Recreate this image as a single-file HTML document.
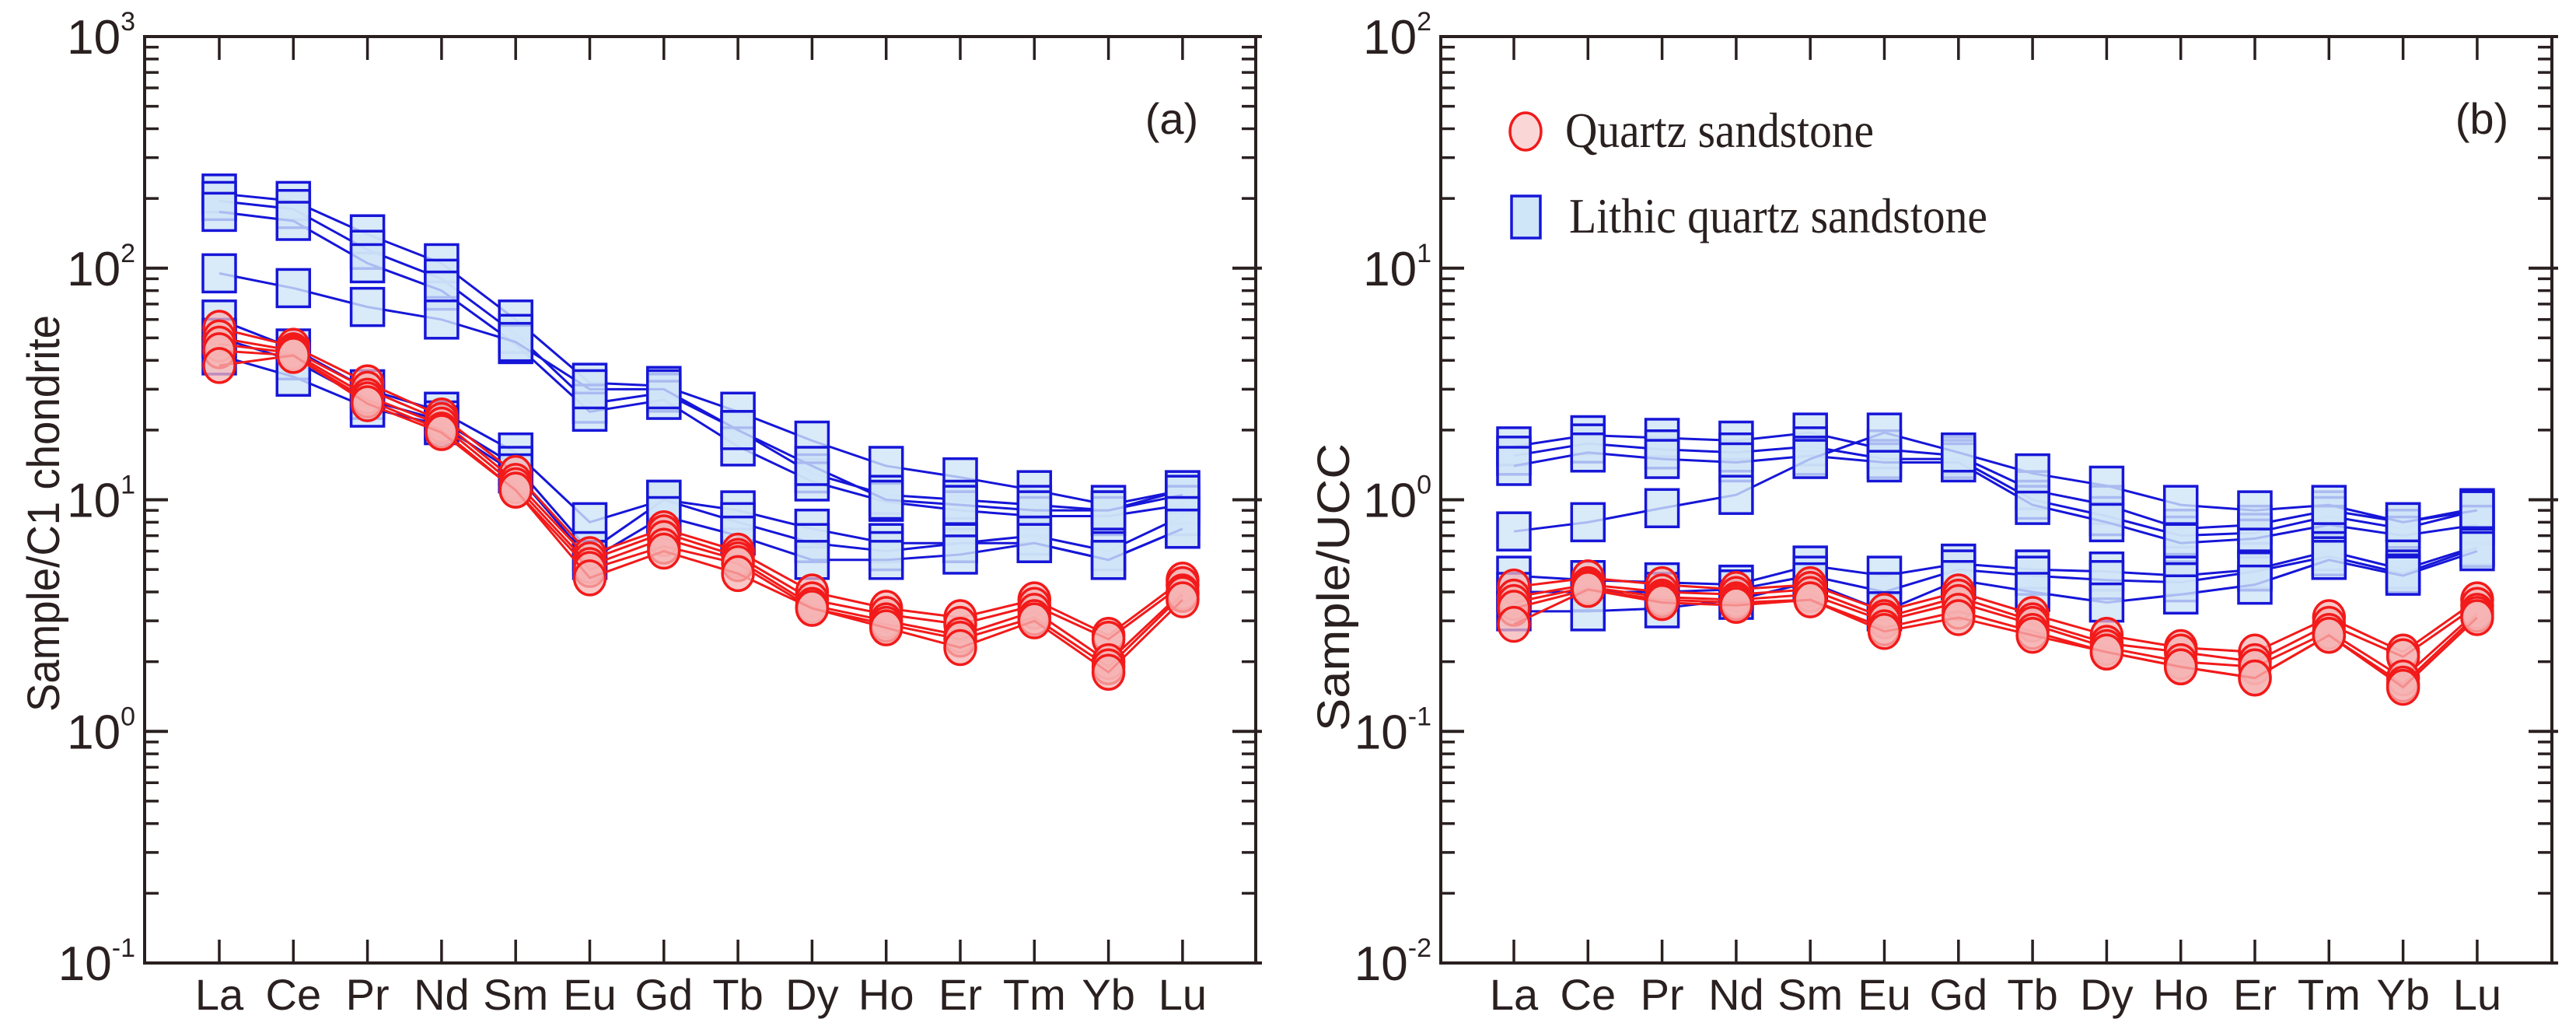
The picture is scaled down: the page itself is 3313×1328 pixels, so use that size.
<!DOCTYPE html>
<html><head><meta charset="utf-8"><style>
html,body{margin:0;padding:0;background:#fff;}
svg{display:block;}
</style></head><body>
<svg id="chart" width="3313" height="1328" viewBox="0 0 3313 1328" xmlns="http://www.w3.org/2000/svg" font-family="Liberation Sans, sans-serif">
<rect width="3313" height="1328" fill="#fff"/>
</svg>
<script>
const elements = ["La","Ce","Pr","Nd","Sm","Eu","Gd","Tb","Dy","Ho","Er","Tm","Yb","Lu"];
const leftBlue = [
 [210,195,140,105,60,32,31,24,18,14,12.5,11,9.5,11],
 [195,180,120,90,52,26,29,20,13,10.5,10,9.5,9,11],
 [175,160,105,80,47,24,27,17,12,9.8,9,8.5,8.5,9.5],
 [95,82,68,60,48,30,30,20,14,10,9.5,9,9,10.5],
 [60,45,30,24,16,8,10,9,7.5,6.5,6.5,7,6,8.5],
 [50,40,27,22,14,6,10,8,6.5,6,6.5,6.5,5.5,7.5],
 [42,34,25,21,13,5.5,8.5,7,5.5,5.5,5.8,6.5,5.5,7.5]
];
const leftRed = [
 [55,46,32,23,13,5.8,7.5,6,4,3.4,3.1,3.7,2.6,4.5],
 [50,44,30,22,12,5.5,7.2,5.7,3.7,3.2,2.9,3.5,2.5,4.3],
 [47,43,28,21,11.5,5.2,6.8,5.5,3.5,3,2.6,3.3,2.0,4.0],
 [44,42,27,20,11,5,6.3,5.3,3.4,2.9,2.5,3.1,1.9,3.9],
 [38,42,26,19.5,11,4.6,6,4.8,3.4,2.8,2.3,3,1.8,3.7]
];
const rightBlue = [
 [1.7,1.9,1.85,1.8,1.95,1.65,1.55,1.1,0.95,0.75,0.78,0.9,0.8,0.92],
 [1.55,1.75,1.65,1.6,1.7,1.5,1.5,1.0,0.85,0.7,0.72,0.85,0.75,0.9],
 [1.4,1.6,1.5,1.45,1.55,1.45,1.45,0.95,0.8,0.65,0.68,0.78,0.7,0.78],
 [0.73,0.8,0.92,1.05,1.5,1.95,1.6,1.3,1.15,0.95,0.9,0.95,0.8,0.9],
 [0.47,0.45,0.44,0.43,0.52,0.47,0.53,0.5,0.49,0.47,0.5,0.6,0.5,0.63],
 [0.4,0.4,0.4,0.41,0.47,0.4,0.5,0.47,0.45,0.44,0.49,0.57,0.48,0.62],
 [0.33,0.33,0.34,0.37,0.44,0.33,0.45,0.4,0.36,0.39,0.43,0.55,0.47,0.6]
];
const rightRed = [
 [0.42,0.46,0.43,0.41,0.43,0.33,0.4,0.32,0.26,0.23,0.22,0.31,0.22,0.37],
 [0.38,0.43,0.4,0.39,0.41,0.31,0.38,0.3,0.24,0.22,0.2,0.29,0.21,0.35],
 [0.36,0.42,0.38,0.37,0.39,0.3,0.36,0.29,0.23,0.2,0.19,0.27,0.17,0.33],
 [0.34,0.41,0.37,0.36,0.37,0.28,0.33,0.27,0.22,0.19,0.17,0.26,0.16,0.32],
 [0.29,0.41,0.36,0.35,0.37,0.27,0.31,0.26,0.22,0.19,0.17,0.26,0.155,0.31]
];
const leftDecades = [-1,0,1,2,3];
const rightDecades = [-2,-1,0,1,2];

const NS="http://www.w3.org/2000/svg";
const svg=document.getElementById('chart');
function mk(tag,attrs,parent){const e=document.createElementNS(NS,tag);for(const k in attrs)e.setAttribute(k,attrs[k]);(parent||svg).appendChild(e);return e;}

function panel(cfg){
  const g=mk('g',{});
  
  
  const L=cfg.x0,R=cfg.x1,T=47,B=1238;
  const dMin=cfg.dec[0],dMax=cfg.dec[cfg.dec.length-1];
  const y=v=>B-(Math.log10(v)-dMin)/(dMax-dMin)*(B-T);
  const x=i=>cfg.la+i*95.3;
  const fr=mk('rect',{x:L,y:T,width:R-L,height:B-T,fill:'none',stroke:'#2a2020','stroke-width':4},g);
  
  
  for(let d=dMin;d<=dMax;d++){
    const yy=y(Math.pow(10,d));
    mk('line',{x1:L,x2:L+30,y1:yy,y2:yy,stroke:'#2a2020','stroke-width':4},g);
    mk('line',{x1:R-30,x2:R+8,y1:yy,y2:yy,stroke:'#2a2020','stroke-width':4},g);
    const t=mk('text',{x:L-12,y:yy+22,'text-anchor':'end','font-size':62,fill:'#2a2020'},g);
    
    
    const a=mk('tspan',{},t);a.textContent='10';
    const b=mk('tspan',{dy:-30,'font-size':34},t);b.textContent=String(d);
    if(d<dMax){
      for(let m=2;m<=9;m++){
        const ym=y(m*Math.pow(10,d));
        mk('line',{x1:L,x2:L+18,y1:ym,y2:ym,stroke:'#2a2020','stroke-width':3.5},g);
        mk('line',{x1:R-18,x2:R,y1:ym,y2:ym,stroke:'#2a2020','stroke-width':3.5},g);
      }
    }
  }
  elements.forEach((el,i)=>{
    const xx=x(i);
    mk('line',{x1:xx,x2:xx,y1:T,y2:T+30,stroke:'#2a2020','stroke-width':3.5},g);
    mk('line',{x1:xx,x2:xx,y1:B,y2:B-30,stroke:'#2a2020','stroke-width':3.5},g);
    const t=mk('text',{x:xx,y:1298,'text-anchor':'middle','font-size':56,fill:'#2a2020'},g);
    
    
    t.textContent=el;
  });
  const yt=mk('text',{x:0,y:0,transform:`translate(${cfg.tx},${cfg.ty}) rotate(-90)`,'text-anchor':'middle','font-size':58,textLength:cfg.tl,lengthAdjust:'spacingAndGlyphs',fill:'#2a2020'},g);
  
  
  yt.textContent=cfg.title;
  const pl=mk('text',{x:cfg.px,y:172,'text-anchor':'middle','font-size':56,fill:'#2a2020'},g);
  
  
  pl.textContent=cfg.plabel;
  cfg.blue.forEach(s=>{
    const sg=mk('g',{},g);
    
    
    mk('polyline',{points:s.map((v,i)=>x(i)+','+y(v)).join(' '),fill:'none',stroke:'#1616d8','stroke-width':3},sg);
    s.forEach((v,i)=>{
      const r=mk('rect',{x:x(i)-21,y:y(v)-24,width:42,height:48,fill:'#cfe5f8','fill-opacity':0.8,stroke:'#1616d8','stroke-width':3.5},sg);
      
      
    });
  });
  cfg.red.forEach(s=>{
    const sg=mk('g',{},g);
    
    
    mk('polyline',{points:s.map((v,i)=>x(i)+','+y(v)).join(' '),fill:'none',stroke:'#f21a1a','stroke-width':3},sg);
    s.forEach((v,i)=>{
      const c=mk('ellipse',{cx:x(i),cy:y(v),rx:20,ry:22,fill:'#f6b4b4','fill-opacity':0.75,stroke:'#f21a1a','stroke-width':3.5},sg);
      
      
    });
  });
  return g;
}
panel({name:'panel-a',x0:186,x1:1615,la:282,dec:leftDecades,blue:leftBlue,red:leftRed,title:'Sample/C1 chondrite',tx:76,ty:660,tl:510,plabel:'(a)',px:1507});
panel({name:'panel-b',x0:1853,x1:3282,la:1947,dec:rightDecades,blue:rightBlue,red:rightRed,title:'Sample/UCC',tx:1735,ty:755,tl:370,plabel:'(b)',px:3192});

const lg=mk('g',{});


const l1=mk('g',{},lg);


mk('ellipse',{cx:1962,cy:169,rx:20,ry:24,fill:'#fbd6d6',stroke:'#f21a1a','stroke-width':3.5},l1);
const lt1=mk('text',{x:2013,y:189,'font-size':64,textLength:397,lengthAdjust:'spacingAndGlyphs','font-family':'Liberation Serif, serif',fill:'#2a2020'},l1);
lt1.textContent='Quartz sandstone';
const l2=mk('g',{},lg);


mk('rect',{x:1944,y:252,width:37,height:54,fill:'#cfe5f8',stroke:'#1616d8','stroke-width':3.5},l2);
const lt2=mk('text',{x:2018,y:299,'font-size':64,textLength:538,lengthAdjust:'spacingAndGlyphs','font-family':'Liberation Serif, serif',fill:'#2a2020'},l2);
lt2.textContent='Lithic quartz sandstone';
</script>
</body></html>
